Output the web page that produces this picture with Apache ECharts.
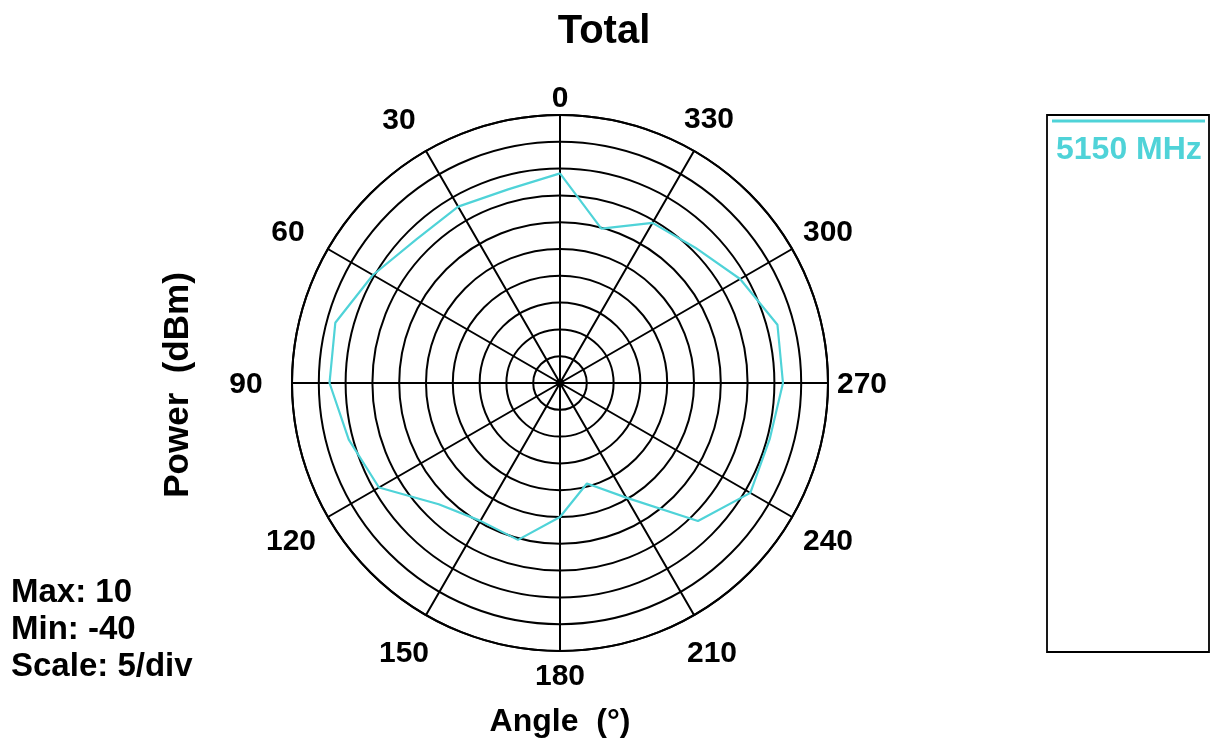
<!DOCTYPE html>
<html>
<head>
<meta charset="utf-8">
<script src="https://cdn.jsdelivr.net/npm/echarts@6/dist/echarts.min.js"></script>
<style>
html,body{margin:0;padding:0;background:#fff;}
#chart{width:1213px;height:745px;}
</style>
</head>
<body>
<div id="chart"></div>
<script>
// ---- data ----
const angles = [0, 15, 30, 45, 60, 75, 90, 105, 120, 135, 150, 165, 180, 195, 210, 225, 240, 255, 270, 285, 300, 315, 330, 345, 360];
const power5150 = [-0.9, -2.6, -2.0, -2.1, 0.3, 3.4, 3.0, 0.8, -1.0, -8.0, -10.3, -9.7, -15.0, -20.6, -15.3, -3.6, 1.0, 0.5, 1.6, 2.0, -1.2, -4.3, -5.5, -10.2, -0.9];
const seriesName = '5150 MHz';
const radialMax = 10;
const radialMin = -40;
const radialStep = 5;
const angleStep = 30;
const infoLines = ['Max: 10', 'Min: -40', 'Scale: 5/div'];

// ---- layout (not data) ----
const FONT = "'Liberation Sans', Arial, sans-serif";
const CYAN = '#4fd3d8';
const CX = 560, CY = 383, R = 268;
const LABEL_MARGIN = -20;
// where the centre of each angle label should sit
const labelCentres = {
  0: [556, 99], 30: [399, 121], 60: [288, 233], 90: [246, 388],
  120: [291, 542], 150: [404, 654], 180: [562, 677], 210: [712, 654],
  240: [828, 542], 270: [862, 388], 300: [828, 233], 330: [709, 120]
};

const rich = {};
Object.keys(labelCentres).forEach(k => {
  const v = +k;
  const t = v * Math.PI / 180;
  const px = CX - (R + LABEL_MARGIN) * Math.sin(t);
  const py = CY - (R + LABEL_MARGIN) * Math.cos(t);
  const alignH = Math.abs(px - CX) / R < 0.3 ? 'center' : 'side';
  const alignV = Math.abs(py - CY) / R < 0.3 ? 'middle' : 'side';
  const c = labelCentres[k];
  const w = alignH === 'center' ? 80 : Math.max(2 * Math.abs(c[0] - px), 10);
  const h = alignV === 'middle' ? 36 : Math.max(2 * Math.abs(c[1] - py), 10);
  const padTop = alignV === 'middle' ? Math.max(2 * (c[1] - py) - 6, 0) : 0;
  rich['a' + v] = {
    width: w, lineHeight: h, height: h, align: 'center', verticalAlign: 'middle',
    padding: [padTop, 0, 0, 0],
    fontFamily: FONT, fontWeight: 'bold', fontSize: 30, color: '#000'
  };
});

const chart = echarts.init(document.getElementById('chart'), null, {renderer: 'canvas'});

const lineData = angles.map((a, i) => [power5150[i], a]);

chart.setOption({
  backgroundColor: '#fff',
  animation: false,
  legend: {
    data: [seriesName],
    left: 1046, top: 129,
    itemWidth: 0, itemHeight: 0,
    icon: 'rect',
    textStyle: {fontFamily: FONT, fontWeight: 'bold', fontSize: 32, color: CYAN}
  },
  polar: {center: [CX, CY], radius: R},
  angleAxis: {
    type: 'value',
    min: 0, max: 360, interval: angleStep,
    startAngle: 90,
    clockwise: false,
    axisLine: {show: true, lineStyle: {color: '#000', width: 2}},
    axisTick: {show: false},
    splitLine: {show: true, lineStyle: {color: '#000', width: 2}},
    axisLabel: {
      show: true, margin: LABEL_MARGIN,
      fontFamily: FONT, fontWeight: 'bold', fontSize: 30, color: '#000',
      formatter: v => '{a' + v + '|' + v + '}',
      rich: rich
    }
  },
  radiusAxis: {
    type: 'value',
    min: radialMin, max: radialMax, interval: radialStep,
    axisLine: {show: false},
    axisTick: {show: false},
    axisLabel: {show: false},
    splitLine: {show: true, lineStyle: {color: '#000', width: 2}}
  },
  graphic: [
    {type: 'text', x: 604, y: 32,
     style: {text: 'Total', font: "bold 40px " + FONT, fill: '#000', align: 'center', verticalAlign: 'middle'}},
    {type: 'rect', shape: {x: 1047, y: 115, width: 162, height: 537},
     style: {fill: 'none', stroke: '#000', lineWidth: 1.8}, z: 10},
    {type: 'line', shape: {x1: 1052, y1: 121, x2: 1205, y2: 121},
     style: {stroke: CYAN, lineWidth: 3}, z: 10},
    {type: 'text', x: 178, y: 385, rotation: Math.PI / 2,
     style: {text: 'Power  (dBm)', font: "bold 35px " + FONT, fill: '#000', align: 'center', verticalAlign: 'middle'}},
    {type: 'text', x: 560, y: 722,
     style: {text: 'Angle  (°)', font: "bold 32px " + FONT, fill: '#000', align: 'center', verticalAlign: 'middle'}},
    {type: 'text', x: 11, y: 574,
     style: {text: infoLines.join('\n'), font: "bold 33px " + FONT, lineHeight: 37, fill: '#000', align: 'left', verticalAlign: 'top'}}
  ],
  series: [
    {
      name: seriesName,
      type: 'line',
      coordinateSystem: 'polar',
      data: lineData,
      symbol: 'none',
      lineStyle: {color: CYAN, width: 2.2},
      itemStyle: {color: CYAN},
      z: 5
    },
    {
      name: 'centre',
      type: 'scatter',
      coordinateSystem: 'polar',
      data: [[radialMin, 0]],
      symbolSize: 8,
      itemStyle: {color: '#000'},
      silent: true,
      z: 6
    }
  ]
});
</script>
</body>
</html>
